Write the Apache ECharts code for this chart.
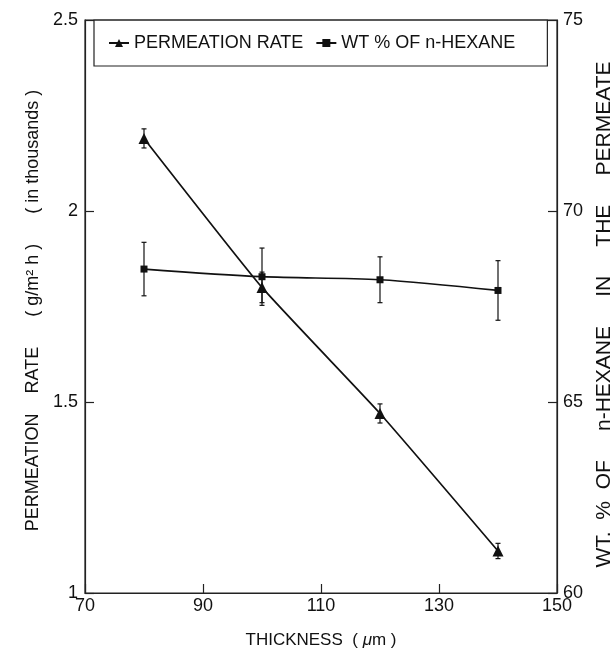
<!DOCTYPE html>
<html>
<head>
<meta charset="utf-8">
<script src="https://cdn.jsdelivr.net/npm/echarts@6/dist/echarts.min.js"></script>
<style>
  html, body { margin: 0; padding: 0; background: #fff; }
  #chart { width: 614px; height: 662px; }
</style>
</head>
<body>
<div id="chart"></div>
<script>
// ---- data ----
const thickness = [80, 100, 120, 140];
const permRate = [2.19, 1.80, 1.47, 1.11];        // thousands g/m2 h
const permErr = [0.025, 0.04, 0.025, 0.02];
const hexWt = [68.48, 68.28, 68.2, 67.92];        // wt %
const hexErr = [0.7, 0.75, 0.6, 0.78];
const xTicks = [70, 90, 110, 130, 150];
const seriesNames = ['PERMEATION RATE', 'WT % OF n-HEXANE'];

const FONT = '"Liberation Sans", Arial, Helvetica, sans-serif';
const INK = '#111';

function pairs(xs, ys) { return xs.map((x, i) => [x, ys[i]]); }
function errData(xs, ys, es) { return xs.map((x, i) => [x, ys[i] - es[i], ys[i] + es[i]]); }

function errorBarRender(params, api) {
  const x = api.value(0);
  const lo = api.coord([x, api.value(1)]);
  const hi = api.coord([x, api.value(2)]);
  const cap = 2.5;
  const style = { stroke: INK, lineWidth: 1.2, fill: null };
  return {
    type: 'group',
    children: [
      { type: 'line', shape: { x1: lo[0], y1: lo[1], x2: hi[0], y2: hi[1] }, style: style },
      { type: 'line', shape: { x1: lo[0] - cap, y1: lo[1], x2: lo[0] + cap, y2: lo[1] }, style: style },
      { type: 'line', shape: { x1: hi[0] - cap, y1: hi[1], x2: hi[0] + cap, y2: hi[1] }, style: style }
    ]
  };
}

const axisLineStyle = { color: '#222', width: 1.2 };
const labelStyle = { color: INK, fontFamily: FONT, fontSize: 18 };

const chart = echarts.init(document.getElementById('chart'), null, { renderer: 'canvas' });
chart.setOption({
  animation: false,
  backgroundColor: '#fff',
  grid: { left: 85, right: 57, top: 20, bottom: 69, containLabel: false, outerBoundsMode: 'none',
          show: true, borderColor: '#222', borderWidth: 1.2 },
  legend: {
    left: 94, top: 20,
    data: seriesNames,
    orient: 'horizontal',
    padding: [14, 32, 14, 14],
    itemGap: 12,
    itemWidth: 20, itemHeight: 10,
    borderColor: '#222', borderWidth: 1.2,
    textStyle: { color: INK, fontFamily: FONT, fontSize: 18 }
  },
  xAxis: {
    type: 'value', min: 70, max: 150,
    name: 'THICKNESS  ( {i|μ}m )',
    nameLocation: 'middle', nameGap: 39,
    nameTextStyle: { color: INK, fontFamily: FONT, fontSize: 17,
      rich: { i: { fontStyle: 'italic', fontFamily: FONT, fontSize: 17, color: INK } } },
    axisLine: { show: true, lineStyle: axisLineStyle },
    axisTick: { show: true, inside: true, length: 9, lineStyle: axisLineStyle, customValues: xTicks },
    axisLabel: Object.assign({ margin: 4, customValues: xTicks }, labelStyle),
    splitLine: { show: false }
  },
  yAxis: [
    {
      type: 'value', min: 1, max: 2.5, interval: 0.5, position: 'left',
      name: 'PERMEATION    RATE      ( g/m² h )      ( in thousands )',
      nameLocation: 'middle', nameGap: 41, nameRotate: 90,
      nameTextStyle: { color: INK, fontFamily: FONT, fontSize: 18, padding: [0, 8, 0, 0] },
      axisLine: { show: true, lineStyle: axisLineStyle },
      axisTick: { show: true, inside: true, length: 9, lineStyle: axisLineStyle },
      axisLabel: Object.assign({ margin: 7 }, labelStyle),
      splitLine: { show: false }
    },
    {
      type: 'value', min: 60, max: 75, interval: 5, position: 'right',
      name: 'WT.  %  OF     n-HEXANE     IN     THE     PERMEATE',
      nameLocation: 'middle', nameGap: 33, nameRotate: 90,
      nameTextStyle: { color: INK, fontFamily: FONT, fontSize: 21, padding: [0, 16, 0, 0] },
      axisLine: { show: true, lineStyle: axisLineStyle },
      axisTick: { show: true, inside: true, length: 9, lineStyle: axisLineStyle },
      axisLabel: Object.assign({ margin: 6 }, labelStyle),
      splitLine: { show: false }
    }
  ],
  series: [
    {
      name: seriesNames[0], type: 'line', yAxisIndex: 0,
      data: pairs(thickness, permRate),
      symbol: 'triangle', symbolSize: 11, smooth: 0.15,
      lineStyle: { color: INK, width: 1.7 },
      itemStyle: { color: INK },
      z: 3
    },
    {
      name: seriesNames[1], type: 'line', yAxisIndex: 1,
      data: pairs(thickness, hexWt),
      symbol: 'rect', symbolSize: 7, smooth: 0.3,
      lineStyle: { color: INK, width: 1.7 },
      itemStyle: { color: INK },
      z: 3
    },
    {
      type: 'custom', yAxisIndex: 0, silent: true,
      data: errData(thickness, permRate, permErr),
      renderItem: errorBarRender,
      encode: { x: 0, y: [1, 2] }, z: 2
    },
    {
      type: 'custom', yAxisIndex: 1, silent: true,
      data: errData(thickness, hexWt, hexErr),
      renderItem: errorBarRender,
      encode: { x: 0, y: [1, 2] }, z: 2
    }
  ]
});
</script>
</body>
</html>
